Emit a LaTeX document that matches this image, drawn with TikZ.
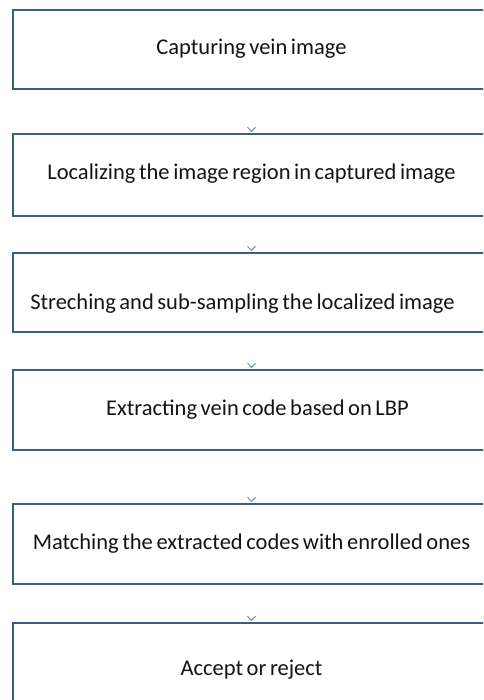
\documentclass[tikz,border=0pt]{standalone}
\usepackage{fontspec}
\setmainfont{Carlito}
\usetikzlibrary{arrows.meta}
\definecolor{boxc}{HTML}{3B5D80}
\definecolor{tipc}{HTML}{6F8DB0}
\definecolor{txtc}{HTML}{141414}
\newcommand{\stepfont}{\fontsize{22.5}{26}\selectfont\spaceskip=3.6pt\relax}
\begin{document}
\begin{tikzpicture}[x=1pt,y=-1pt,
  stepbox/.style={draw=boxc, line width=2pt, fill=white, minimum width=477pt,
    inner sep=0pt, text=txtc, anchor=north, text height=15pt, text depth=5pt,
    font=\stepfont},
  conn/.style={draw=white, line width=0.3pt,
    -{Straight Barb[color=tipc, length=4pt, width=8pt, line width=1pt]}, shorten >=1pt}]
\useasboundingbox (0,0) rectangle (483,700);
\clip (0,0) rectangle (483,700);
\fill[white] (0,0) rectangle (483,700);
\node[stepbox, minimum height=79pt] (b1) at (251.5,9) {Capturing vein image};
\node[stepbox, minimum height=82pt] (b2) at (251.5,133) {Localizing the image region in captured image};
\node[stepbox, minimum height=79pt, text height=39pt] (b3) at (251.5,252) {\hspace*{-18pt}Streching and sub-sampling the localized image};
\node[stepbox, minimum height=80pt] (b4) at (251.5,369) {\hspace*{12pt}Extracting vein code based on LBP};
\node[stepbox, minimum height=80pt] (b5) at (251.5,503) {Matching the extracted codes with enrolled ones};
\node[stepbox, minimum height=90pt, text height=17pt, text depth=3pt] (b6) at (251.5,622) {Accept or reject};
\draw[conn] (b1.south) -- (b2.north);
\draw[conn] (b2.south) -- (b3.north);
\draw[conn] (b3.south) -- (b4.north);
\draw[conn] (b4.south) -- (b5.north);
\draw[conn] (b5.south) -- (b6.north);
\end{tikzpicture}
\end{document}
